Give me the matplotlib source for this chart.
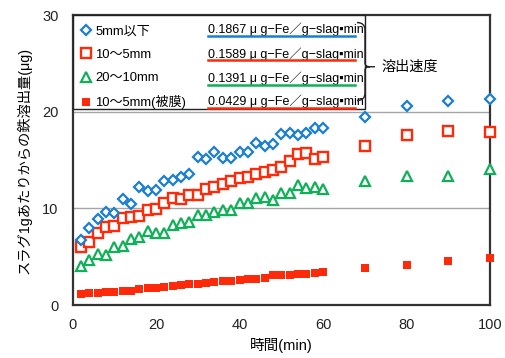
import matplotlib
matplotlib.use("Agg")
import matplotlib.pyplot as plt
from matplotlib.patches import Rectangle, PathPatch
from matplotlib.path import Path
from matplotlib.lines import Line2D

plt.rcParams['font.family'] = ['Liberation Sans', 'Noto Sans CJK JP', 'DejaVu Sans']

# data
time_min = [2, 4, 6, 8, 10, 12, 14, 16, 18, 20, 22, 24, 26, 28, 30,
            32, 34, 36, 38, 40, 42, 44, 46, 48, 50, 52, 54, 56, 58, 60,
            70, 80, 90, 100]
fe_5mm = [6.72, 7.93, 8.93, 9.65, 9.48, 10.93, 10.44, 12.17, 11.82, 11.89,
          12.82, 12.89, 13.20, 13.55, 15.27, 15.10, 15.79, 15.17, 15.17, 15.86,
          15.86, 16.72, 16.44, 16.65, 17.65, 17.75, 17.58, 17.82, 18.27, 18.27,
          19.41, 20.61, 21.06, 21.30]
fe_10_5 = [6.03, 6.55, 7.41, 8.10, 8.17, 8.96, 9.14, 9.20, 9.82, 9.89,
           10.58, 11.03, 10.93, 11.38, 11.38, 11.96, 12.24, 12.48, 12.82, 13.10,
           13.27, 13.55, 13.79, 13.96, 14.31, 14.89, 15.62, 15.75, 15.06, 15.34,
           16.48, 17.58, 17.99, 17.93]
fe_20_10 = [4.07, 4.65, 5.27, 5.17, 6.03, 6.14, 6.79, 7.00, 7.65, 7.48,
            7.48, 8.27, 8.45, 8.62, 9.31, 9.31, 9.65, 9.82, 9.82, 10.51,
            10.51, 11.03, 11.13, 10.86, 11.62, 11.55, 12.41, 12.06, 12.17, 12.00,
            12.82, 13.34, 13.37, 14.03]
fe_10_5_film = [1.10, 1.21, 1.28, 1.34, 1.38, 1.48, 1.48, 1.62, 1.76, 1.79,
                1.83, 1.96, 2.03, 2.14, 2.17, 2.28, 2.36, 2.48, 2.48, 2.59,
                2.69, 2.72, 2.83, 3.07, 3.10, 3.10, 3.17, 3.21, 3.34, 3.41,
                3.80, 4.14, 4.58, 4.90]

labels = ['5mm以下', '10〜5mm', '20〜10mm', '10〜5mm(被膜)']
rates = ['0.1867', '0.1589', '0.1391', '0.0429']

blue = '#1a7fd0'
red = '#ff2a0a'
green = '#10b058'

fig = plt.figure(figsize=(5.05, 3.58), dpi=100)
ax = fig.add_axes([0.1436, 0.148, 0.8267, 0.810])

h1, = ax.plot(time_min, fe_5mm, 'D', ms=5.4, mfc='white', mec=blue, mew=1.6,
              ls='none', clip_on=False, zorder=5)
h2, = ax.plot(time_min, fe_10_5, 's', ms=6.6, mfc='white', mec=red, mew=1.7,
              ls='none', clip_on=False, zorder=4)
h3, = ax.plot(time_min, fe_20_10, '^', ms=6.6, mfc='white', mec=green, mew=1.6,
              ls='none', clip_on=False, zorder=3)
h4, = ax.plot(time_min, fe_10_5_film, 's', ms=5.2, mfc=red, mec=red, mew=0,
              ls='none', clip_on=False, zorder=3)

ax.set_xlim(0, 100)
ax.set_ylim(0, 30)
ax.set_xticks([0, 20, 40, 60, 80, 100])
ax.set_yticks([0, 10, 20, 30])
ax.tick_params(length=0, labelsize=10.5, colors='#222222')
ax.tick_params(axis='y', pad=10)
ax.tick_params(axis='x', pad=9)
for y in [10, 20]:
    ax.axhline(y, color='#a6a6a6', lw=1.0, zorder=1)
for s in ax.spines.values():
    s.set_linewidth(1.6)
    s.set_color('#333333')

ax.set_xlabel('時間(min)', fontsize=10.5, labelpad=5)
ax.set_ylabel('スラグ1gあたりからの鉄溶出量(μg)', fontsize=10.3, labelpad=8)

# legend box
ax.add_patch(Rectangle((0, 0.676), 0.70, 0.324, transform=ax.transAxes,
                       facecolor='white', edgecolor='#222222', lw=1.0, zorder=6))
leg = ax.legend([h1, h2, h3, h4], labels, loc='upper left',
                bbox_to_anchor=(-0.002, 0.995), frameon=False, fontsize=9.4,
                handlelength=0.8, handletextpad=0.3, labelspacing=0.85,
                borderaxespad=0.3)
leg.set_zorder(7)

row_y = [0.950, 0.866, 0.782, 0.703]
line_cols = [blue, red, green, red]
for y, r, c in zip(row_y, rates, line_cols):
    ax.text(0.325, y, r + ' μ g−Fe／g−slag▪min', transform=ax.transAxes,
            fontsize=9.0, va='center', ha='left', zorder=8)
    ax.add_line(Line2D([0.325, 0.677], [y - 0.022, y - 0.022], color=c, lw=1.8,
                       transform=ax.transAxes, zorder=8))

# brace
def px(x, y):
    return ((x - 72.5) / 417.5, (305 - y) / 290)

verts = [px(357, 22.5), px(365, 22.5), px(365, 30), px(365, 63),
         px(365, 66.7), px(370, 66.7), px(375, 66.7),
         px(370, 66.7), px(365, 66.7), px(365, 70), px(365, 93),
         px(365, 100.5), px(357, 100.5)]
codes = [Path.MOVETO, Path.CURVE3, Path.CURVE3, Path.LINETO,
         Path.CURVE3, Path.CURVE3, Path.LINETO,
         Path.MOVETO, Path.CURVE3, Path.CURVE3, Path.LINETO,
         Path.CURVE3, Path.CURVE3]
ax.add_patch(PathPatch(Path(verts, codes), transform=ax.transAxes, fill=False,
                       edgecolor='#222222', lw=1.0, clip_on=False, zorder=8))
ax.text(0.741, 0.822, '溶出速度', transform=ax.transAxes, fontsize=10.2,
        va='center', ha='left')

fig.savefig('out.png', dpi=100)
